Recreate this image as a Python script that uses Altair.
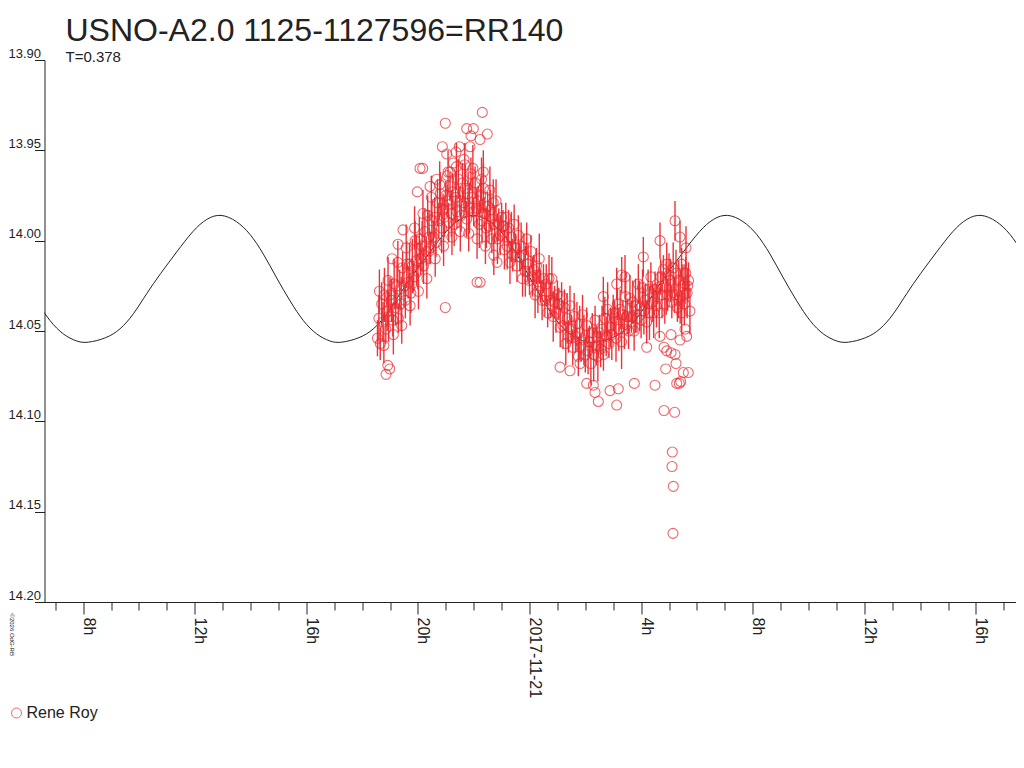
import altair as alt
import pandas as pd

# ---------------- data ----------------
# hours since 2017-11-20 00:00 UT
obs_hours = [
    18.55, 18.60, 18.65, 18.70, 18.75, 18.80, 18.85, 18.90, 18.95, 19.00,
    19.05, 19.10, 19.15, 19.20, 19.25, 19.30, 19.35, 19.40, 19.45, 19.50,
    19.55, 19.60, 19.65, 19.70, 19.75, 19.80, 19.85, 19.90, 19.95, 20.00,
    20.05, 20.10, 20.15, 20.20, 20.25, 20.30, 20.35, 20.40, 20.45, 20.50,
    20.55, 20.60, 20.65, 20.70, 20.75, 20.80, 20.85, 20.90, 20.95, 21.00,
    21.05, 21.10, 21.15, 21.20, 21.25, 21.30, 21.35, 21.40, 21.45, 21.50,
    21.55, 21.60, 21.65, 21.70, 21.75, 21.80, 21.85, 21.90, 21.95, 22.00,
    22.05, 22.10, 22.15, 22.20, 22.25, 22.30, 22.35, 22.40, 22.45, 22.50,
    22.55, 22.60, 22.65, 22.70, 22.75, 22.80, 22.85, 22.90, 22.95, 23.00,
    23.05, 23.10, 23.15, 23.20, 23.25, 23.30, 23.35, 23.40, 23.45, 23.50,
    23.55, 23.60, 23.65, 23.70, 23.75, 23.80, 23.85, 23.90, 23.95, 24.00,
    24.05, 24.10, 24.15, 24.20, 24.25, 24.30, 24.35, 24.40, 24.45, 24.50,
    24.55, 24.60, 24.65, 24.70, 24.75, 24.80, 24.85, 24.90, 24.95, 25.00,
    25.05, 25.10, 25.15, 25.20, 25.25, 25.30, 25.35, 25.40, 25.45, 25.50,
    25.55, 25.60, 25.65, 25.70, 25.75, 25.80, 25.85, 25.90, 25.95, 26.00,
    26.05, 26.10, 26.15, 26.20, 26.25, 26.30, 26.35, 26.40, 26.45, 26.50,
    26.55, 26.60, 26.65, 26.70, 26.75, 26.80, 26.85, 26.90, 26.95, 27.00,
    27.05, 27.10, 27.15, 27.20, 27.25, 27.30, 27.35, 27.40, 27.45, 27.50,
    27.55, 27.60, 27.65, 27.70, 27.75, 27.80, 27.85, 27.90, 27.95, 28.00,
    28.05, 28.10, 28.15, 28.20, 28.25, 28.30, 28.35, 28.40, 28.45, 28.50,
    28.55, 28.60, 28.65, 28.70, 28.75, 28.80, 28.85, 28.90, 28.95, 29.00,
    29.05, 29.10, 29.15, 29.20, 29.25, 29.30, 29.35, 29.40, 29.45, 29.50,
    29.55, 29.60, 29.65, 29.70, 29.75,
    18.62, 18.78, 18.93, 19.12, 19.28, 19.42, 19.58, 19.72, 19.88, 20.02,
    20.18, 20.32, 20.48, 20.62, 20.78, 20.92, 21.08, 21.22, 21.38, 21.52,
    21.68, 21.82, 21.97, 22.12, 22.28, 22.42, 22.58, 22.72,
]
obs_mag = [
    14.054, 14.043, 14.057, 14.035, 14.045, 14.030, 14.049, 14.039, 14.042, 14.030,
    14.033, 14.044, 14.024, 14.037, 14.025, 14.043, 14.027, 14.035, 14.015, 14.025,
    14.033, 14.013, 14.023, 14.013, 14.029, 14.014, 14.020, 14.000, 14.011, 14.017,
    13.999, 14.010, 14.003, 14.014, 13.995, 14.006, 13.986, 13.998, 14.004, 13.989,
    13.998, 13.987, 14.001, 13.979, 13.989, 13.974, 13.993, 13.983, 13.987, 13.975,
    13.978, 13.990, 13.970, 13.985, 13.973, 13.991, 13.976, 13.984, 13.966, 13.978,
    13.986, 13.968, 13.979, 13.971, 13.988, 13.974, 13.982, 13.963, 13.976, 13.984,
    13.968, 13.982, 13.978, 13.991, 13.975, 13.989, 13.971, 13.985, 13.993, 13.981,
    13.992, 13.983, 13.999, 13.979, 13.991, 13.978, 13.999, 13.991, 13.997, 13.987,
    13.992, 14.005, 13.987, 14.003, 13.993, 14.012, 13.998, 14.008, 13.991, 14.004,
    14.014, 13.997, 14.009, 14.003, 14.021, 14.008, 14.017, 13.999, 14.013, 14.022,
    14.006, 14.020, 14.016, 14.030, 14.014, 14.028, 14.010, 14.025, 14.033, 14.021,
    14.033, 14.024, 14.040, 14.021, 14.033, 14.021, 14.042, 14.034, 14.040, 14.030,
    14.035, 14.048, 14.031, 14.047, 14.037, 14.057, 14.043, 14.053, 14.036, 14.049,
    14.059, 14.042, 14.053, 14.046, 14.064, 14.051, 14.059, 14.041, 14.055, 14.063,
    14.047, 14.061, 14.056, 14.068, 14.051, 14.063, 14.044, 14.058, 14.064, 14.051,
    14.060, 14.049, 14.063, 14.043, 14.053, 14.038, 14.057, 14.048, 14.052, 14.040,
    14.043, 14.054, 14.035, 14.049, 14.038, 14.056, 14.041, 14.049, 14.031, 14.042,
    14.050, 14.032, 14.042, 14.034, 14.050, 14.036, 14.043, 14.024, 14.036, 14.044,
    14.026, 14.039, 14.033, 14.045, 14.027, 14.040, 14.020, 14.034, 14.040, 14.027,
    14.036, 14.026, 14.040, 14.020, 14.030, 14.016, 14.035, 14.026, 14.030, 14.019,
    14.022, 14.034, 14.015, 14.030, 14.018, 14.037, 14.022, 14.031, 14.013, 14.025,
    14.035, 14.018, 14.029, 14.022, 14.039,
    14.028, 14.058, 14.022, 14.052, 14.012, 14.047, 14.004, 14.036, 13.993, 14.028,
    13.985, 14.021, 13.976, 14.010, 13.969, 14.003, 13.962, 13.998, 13.959, 13.995,
    13.958, 13.996, 13.960, 13.999, 13.966, 14.003, 13.972, 14.008,
]
obs_err = [
    0.010, 0.013, 0.009, 0.012, 0.011, 0.015, 0.008, 0.011, 0.014, 0.010,
    0.012, 0.009, 0.014, 0.010, 0.013, 0.008, 0.011, 0.015, 0.009, 0.012,
    0.010, 0.013, 0.009, 0.012, 0.011, 0.015, 0.008, 0.011, 0.014, 0.010,
    0.012, 0.009, 0.014, 0.010, 0.013, 0.008, 0.011, 0.015, 0.009, 0.012,
    0.009, 0.011, 0.008, 0.013, 0.010, 0.012, 0.014, 0.009, 0.011, 0.008,
    0.009, 0.011, 0.008, 0.013, 0.010, 0.012, 0.014, 0.009, 0.011, 0.008,
    0.009, 0.011, 0.008, 0.013, 0.010, 0.012, 0.014, 0.009, 0.011, 0.008,
    0.009, 0.011, 0.008, 0.013, 0.010, 0.012, 0.014, 0.009, 0.011, 0.008,
    0.009, 0.011, 0.008, 0.013, 0.010, 0.012, 0.014, 0.009, 0.011, 0.008,
    0.009, 0.011, 0.008, 0.013, 0.010, 0.012, 0.014, 0.009, 0.011, 0.008,
    0.009, 0.011, 0.008, 0.013, 0.010, 0.012, 0.014, 0.009, 0.011, 0.008,
    0.009, 0.011, 0.008, 0.013, 0.010, 0.012, 0.014, 0.009, 0.011, 0.008,
    0.009, 0.011, 0.008, 0.013, 0.010, 0.012, 0.014, 0.009, 0.011, 0.008,
    0.009, 0.011, 0.008, 0.013, 0.010, 0.012, 0.014, 0.009, 0.011, 0.008,
    0.010, 0.013, 0.009, 0.012, 0.011, 0.015, 0.008, 0.011, 0.014, 0.010,
    0.010, 0.013, 0.009, 0.012, 0.011, 0.015, 0.008, 0.011, 0.014, 0.010,
    0.010, 0.013, 0.009, 0.012, 0.011, 0.015, 0.008, 0.011, 0.014, 0.010,
    0.010, 0.013, 0.009, 0.012, 0.011, 0.015, 0.008, 0.011, 0.014, 0.010,
    0.010, 0.013, 0.009, 0.012, 0.011, 0.015, 0.008, 0.011, 0.014, 0.010,
    0.010, 0.013, 0.009, 0.012, 0.011, 0.015, 0.008, 0.011, 0.014, 0.010,
    0.012, 0.009, 0.014, 0.010, 0.013, 0.008, 0.011, 0.015, 0.009, 0.012,
    0.012, 0.009, 0.014, 0.010, 0.013, 0.008, 0.011, 0.015, 0.009, 0.012,
    0.012, 0.009, 0.014, 0.010, 0.013,
    0.012, 0.010, 0.013, 0.011, 0.012, 0.010, 0.013, 0.011, 0.012, 0.010,
    0.013, 0.011, 0.012, 0.010, 0.013, 0.011, 0.012, 0.010, 0.013, 0.011,
    0.012, 0.010, 0.013, 0.011, 0.012, 0.010, 0.013, 0.011,
]

# isolated points (outliers)
out_hours = [
    22.308, 20.982, 21.749, 21.986, 21.903, 22.226, 22.487, 20.875, 21.484, 21.867,
    21.032, 21.366, 21.652, 21.269, 20.075, 20.172, 21.151, 20.674, 21.054, 22.344,
    19.978, 20.434, 19.466, 19.287, 19.072, 18.857, 18.990, 18.920, 20.982, 22.120,
    22.230, 22.835, 26.348, 26.287, 26.466, 27.125, 27.183, 26.885, 27.756, 26.050,
    25.810, 25.452, 25.093, 28.498, 28.821, 29.204, 29.118, 29.108, 29.154, 29.143,
    29.276, 29.369, 29.419, 29.513, 29.692, 28.882, 29.251, 29.072, 29.215, 28.821,
    28.918, 28.201, 29.072, 29.394, 29.634, 28.677, 29.573, 29.455, 29.333, 29.573,
    29.670, 28.918, 29.215, 28.677, 29.394, 29.609, 28.079, 27.305, 27.423, 27.125,
    26.645,
]
out_mag = [
    13.929, 13.935, 13.938, 13.938, 13.942, 13.944, 13.941, 13.948, 13.948, 13.948,
    13.952, 13.951, 13.955, 13.957, 13.960, 13.960, 13.962, 13.966, 13.964, 13.962,
    13.973, 13.970, 13.994, 14.002, 14.010, 14.074, 14.071, 14.069, 14.037, 14.023,
    14.023, 14.012, 14.084, 14.080, 14.089, 14.091, 14.082, 14.083, 14.079, 14.079,
    14.068, 14.072, 14.070, 14.080, 14.094, 14.095, 14.117, 14.125, 14.136, 14.162,
    14.079, 14.079, 14.078, 14.073, 14.073, 14.071, 14.068, 14.062, 14.063, 14.059,
    14.061, 14.059, 14.052, 14.055, 14.053, 14.053, 14.049, 14.040, 14.033, 14.024,
    14.025, 14.013, 13.989, 14.000, 13.998, 14.004, 14.009, 14.019, 14.020, 14.024,
    14.031,
]
out_err = [
    0.0, 0.0, 0.0, 0.0, 0.0, 0.0, 0.0, 0.0, 0.0, 0.0,
    0.0, 0.0, 0.0, 0.0, 0.0, 0.0, 0.0, 0.0, 0.0, 0.012,
    0.0, 0.0, 0.0, 0.0, 0.0, 0.0, 0.0, 0.0, 0.0, 0.0,
    0.0, 0.0, 0.0, 0.0, 0.0, 0.0, 0.0, 0.0, 0.0, 0.0,
    0.0, 0.0, 0.0, 0.0, 0.0, 0.0, 0.0, 0.0, 0.0, 0.0,
    0.0, 0.0, 0.0, 0.0, 0.0, 0.0, 0.0, 0.0, 0.0, 0.0,
    0.0, 0.0, 0.0, 0.0, 0.0, 0.0, 0.0, 0.012, 0.010, 0.011,
    0.009, 0.012, 0.011, 0.010, 0.009, 0.012, 0.011, 0.010, 0.012, 0.009,
    0.011,
]

# fitted light curve (period T = 0.378 d)
curve_hours = [
    5.857, 6.337, 6.814, 7.291, 7.771, 8.130, 8.846, 9.323, 9.800, 10.280, 10.757, 11.355, 11.950, 12.431,
    12.930, 13.503, 13.984, 14.460, 14.937, 15.417, 15.894, 16.371, 16.851, 17.210,
    17.926, 18.403, 18.880, 19.360, 19.837, 20.435, 21.030, 21.511,
    22.010, 22.583, 23.064, 23.540, 24.017, 24.497, 24.974, 25.451, 25.931, 26.290,
    27.006, 27.483, 27.960, 28.440, 28.917, 29.515, 30.110, 30.591,
    31.090, 31.663, 32.144, 32.620, 33.097, 33.577, 34.054, 34.531, 35.011, 35.370,
    36.086, 36.563, 37.040, 37.520, 37.997, 38.595, 39.190, 39.671,
    40.170, 40.743, 41.224, 41.700, 42.177,
]
curve_mag = [
    14.0208, 14.0335, 14.0449, 14.0522, 14.0559, 14.0568, 14.0540, 14.0494, 14.0411, 14.0291, 14.0185, 14.0062, 13.9941, 13.9876,
    13.9849, 13.9889, 13.9959, 14.0070, 14.0208, 14.0335, 14.0449, 14.0522, 14.0559, 14.0568,
    14.0540, 14.0494, 14.0411, 14.0291, 14.0185, 14.0062, 13.9941, 13.9876,
    13.9849, 13.9889, 13.9959, 14.0070, 14.0208, 14.0335, 14.0449, 14.0522, 14.0559, 14.0568,
    14.0540, 14.0494, 14.0411, 14.0291, 14.0185, 14.0062, 13.9941, 13.9876,
    13.9849, 13.9889, 13.9959, 14.0070, 14.0208, 14.0335, 14.0449, 14.0522, 14.0559, 14.0568,
    14.0540, 14.0494, 14.0411, 14.0291, 14.0185, 14.0062, 13.9941, 13.9876,
    13.9849, 13.9889, 13.9959, 14.0070, 14.0208,
]

y_ticks = [13.90, 13.95, 14.00, 14.05, 14.10, 14.15, 14.20]
x_tick_hours = list(range(7, 42))
x_domain_hours = [6.616, 41.437]
observer = "Rene Roy"
title_text = "USNO-A2.0 1125-1127596=RR140"
subtitle_text = "T=0.378"
credit_text = "\u00a92026 OdG-RB"

# ---------------- build tables ----------------
BASE_MS = int(pd.Timestamp("2017-11-20", tz="UTC").value // 10**6)
HOUR_MS = 3600000


def to_ms(h):
    return BASE_MS + h * HOUR_MS


obs = pd.DataFrame({
    "t": [to_ms(h) for h in obs_hours + out_hours],
    "mag": obs_mag + out_mag,
    "err": obs_err + out_err,
})
obs["observer"] = observer
obs["lo"] = obs["mag"] - obs["err"]
obs["hi"] = obs["mag"] + obs["err"]
bars = obs[obs["err"] > 0].reset_index(drop=True)

curve = pd.DataFrame({"t": [to_ms(h) for h in curve_hours], "mag": curve_mag})

FONT = "Liberation Sans, Arial, sans-serif"
RED = "#e8282f"
BAR_RED = "#ee3338"
INK = "#222222"

x_scale = alt.Scale(type="utc", domain=[to_ms(h) for h in x_domain_hours], nice=False)
y_scale = alt.Scale(domain=[y_ticks[0], y_ticks[-1]], reverse=True, zero=False, nice=False)

x_axis = alt.Axis(
    values=[to_ms(h) for h in x_tick_hours],
    labelExpr=("utchours(datum.value) == 0 ? utcFormat(datum.value, '%Y-%m-%d') : "
               "(utchours(datum.value) % 4 == 0 ? utchours(datum.value) + 'h' : '')"),
    labelAngle=90, labelAlign="left", labelBaseline="alphabetic",
    labelFont=FONT, labelFontSize=16, labelColor=INK, labelPadding=3,
    labelOverlap=False, labelFlush=False,
    tickSize={"condition": {"test": "utchours(datum.value) % 4 == 0", "value": 12}, "value": 8},
    tickColor=INK, domainColor=INK, grid=False, title=None,
)
y_axis = alt.Axis(
    values=y_ticks, format=".2f",
    labelAlign="right", labelBaseline="bottom", labelPadding=-6,
    labelFont=FONT, labelFontSize=13, labelColor=INK,
    tickSize=10, tickColor=INK, domainColor=INK, grid=False,
    title=credit_text, titleAngle=90, titleFont=FONT, titleFontSize=6,
    titleFontWeight="normal", titleColor=INK, titleAlign="left", titleBaseline="middle",
    titleX=-33, titleY=553,
)

curve_layer = alt.Chart(curve).mark_line(color=INK, strokeWidth=1, interpolate="basis", clip=True).encode(
    x=alt.X("t:T", scale=x_scale, axis=x_axis),
    y=alt.Y("mag:Q", scale=y_scale, axis=y_axis),
)

bar_layer = alt.Chart(bars).mark_rule(color=BAR_RED, strokeWidth=1.4, clip=True).encode(
    x=alt.X("t:T", scale=x_scale, axis=x_axis),
    y=alt.Y("lo:Q", scale=y_scale, axis=y_axis),
    y2="hi:Q",
)

point_layer = alt.Chart(obs).mark_point(shape="circle", filled=False, size=100, strokeWidth=1.1, clip=True).encode(
    x=alt.X("t:T", scale=x_scale, axis=x_axis),
    y=alt.Y("mag:Q", scale=y_scale, axis=y_axis),
    color=alt.Color("observer:N", scale=alt.Scale(range=[RED]),
                    legend=alt.Legend(orient="none", legendX=-36, legendY=645, title=None,
                                      labelFont=FONT, labelFontSize=16, labelColor=INK,
                                      symbolSize=100, symbolStrokeWidth=1, labelOffset=2, padding=0)),
)

chart = alt.layer(curve_layer, bar_layer, point_layer).properties(
    width=971.5,
    height=542,
    autosize="none",
    padding={"left": 36.5, "top": 52, "right": 0, "bottom": 125},
    title=alt.TitleParams(
        text=title_text, subtitle=subtitle_text, anchor="start", frame="group",
        dx=21, offset=-19, font=FONT, fontSize=32, fontWeight="normal", color=INK,
        subtitleFont=FONT, subtitleFontSize=15, subtitleColor=INK, subtitlePadding=2,
    ),
).configure_view(stroke="transparent", strokeWidth=0)

chart.save("out.html", embed_options={"renderer": "svg", "actions": False})
